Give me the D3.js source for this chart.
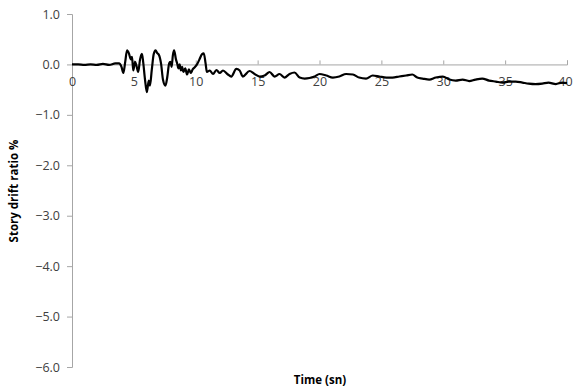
<!DOCTYPE html>
<html><head><meta charset="utf-8">
<script src="https://cdn.jsdelivr.net/npm/d3@7"></script>
<style>body{margin:0;background:#fff;} svg{display:block;}</style>
</head><body>
<svg id="chart" width="573" height="392"></svg>
<script>
const time = [0,0.5,1,1.5,2,2.5,3,3.5,3.8,4.0,4.15,4.3,4.45,4.6,4.75,4.85,4.95,5.1,5.2,5.35,5.5,5.65,5.75,5.9,6.05,6.2,6.3,6.45,6.6,6.75,6.9,7.0,7.2,7.35,7.55,7.7,7.85,7.95,8.05,8.15,8.25,8.4,8.5,8.6,8.7,8.8,8.9,9.0,9.15,9.3,9.45,9.6,9.75,9.9,10.1,10.3,10.5,10.65,10.8,10.9,11.13,11.4,11.67,11.94,12.2,12.6,12.87,13.28,13.55,13.8,14.35,14.75,15.16,15.56,15.97,16.37,16.77,17.17,17.58,17.98,18.4,18.8,19.19,19.6,20.0,20.55,21.08,21.6,22.15,22.7,23.2,23.76,24.3,24.84,25.4,25.9,26.45,27.0,27.5,27.9,28.33,28.87,29.4,29.97,30.5,31.0,31.56,32.1,32.6,33.15,33.7,34.25,34.8,35.3,35.86,36.4,36.9,37.45,38.0,38.5,39.1,39.6,40];
const drift = [0,0,-0.01,0,-0.01,0.01,-0.01,0.02,0.02,-0.05,-0.17,0.05,0.28,0.22,0.1,0.15,-0.12,0.05,-0.02,-0.15,0.1,0.21,0.05,-0.3,-0.55,-0.32,-0.42,-0.1,0.2,0.28,0.22,0.2,0.01,-0.3,-0.42,-0.25,0.02,0.05,-0.05,0.18,0.28,0.1,0.02,-0.08,0.0,-0.12,-0.05,-0.15,-0.08,-0.2,-0.1,-0.17,-0.1,-0.06,0.0,0.1,0.2,0.22,0.01,-0.15,-0.12,-0.19,-0.11,-0.17,-0.12,-0.2,-0.24,-0.09,-0.12,-0.24,-0.13,-0.19,-0.24,-0.22,-0.15,-0.24,-0.19,-0.26,-0.19,-0.16,-0.26,-0.28,-0.27,-0.24,-0.19,-0.22,-0.26,-0.24,-0.19,-0.2,-0.26,-0.28,-0.22,-0.24,-0.26,-0.26,-0.24,-0.22,-0.2,-0.26,-0.28,-0.3,-0.26,-0.24,-0.3,-0.32,-0.3,-0.33,-0.3,-0.28,-0.32,-0.34,-0.36,-0.34,-0.34,-0.36,-0.38,-0.39,-0.38,-0.36,-0.39,-0.36,-0.37];
const xTicks = [0,5,10,15,20,25,30,35,40];
const yTicks = [1,0,-1,-2,-3,-4,-5,-6];

const svg = d3.select("#chart");
const x = d3.scaleLinear().domain([0,40]).range([72,567]);
const y = d3.scaleLinear().domain([-6,1]).range([367,14]);
const axisColor = "#a6a6a6";
const labelColor = "#404040";
const font = "'Open Sans', 'Noto Sans', sans-serif";

// y axis
const yAxis = svg.append("g").attr("transform",`translate(${x(0)},0)`)
  .call(d3.axisLeft(y).tickValues(yTicks).tickFormat(d3.format(".1f")).tickSize(5).tickPadding(7));
yAxis.select(".domain").attr("stroke",axisColor);
yAxis.selectAll(".tick line").attr("stroke",axisColor);
yAxis.selectAll(".tick text").attr("fill",labelColor).style("font-family",font).style("font-size","12.5px");

// x axis at y=0
const xAxis = svg.append("g").attr("transform",`translate(0,${y(0)})`)
  .call(d3.axisTop(x).tickValues(xTicks).tickFormat(d3.format("d")).tickSize(4));
xAxis.select(".domain").attr("stroke",axisColor);
xAxis.selectAll(".tick line").attr("stroke",axisColor);
xAxis.selectAll(".tick text").attr("fill",labelColor).style("font-family",font).style("font-size","12.5px")
  .attr("y",18).attr("dy","0.32em")
  .attr("x",d => d === 40 ? -2 : 0);

// line
const line = d3.line().x((d,i)=>x(time[i])).y(d=>y(d)).curve(d3.curveMonotoneX);
svg.append("path").datum(drift).attr("d",line).attr("fill","none").attr("stroke","#000").attr("stroke-width",2.2).attr("stroke-linejoin","round");

// titles
svg.append("text").attr("x",320).attr("y",384).attr("text-anchor","middle")
  .style("font-family",font).style("font-size","11.5px").style("font-weight","bold").attr("fill","#000").text("Time (sn)");
svg.append("text").attr("transform","translate(18,191) rotate(-90)").attr("text-anchor","middle")
  .style("font-family",font).style("font-size","11.5px").style("font-weight","bold").attr("fill","#000").text("Story drift ratio %");
</script>
</body></html>
